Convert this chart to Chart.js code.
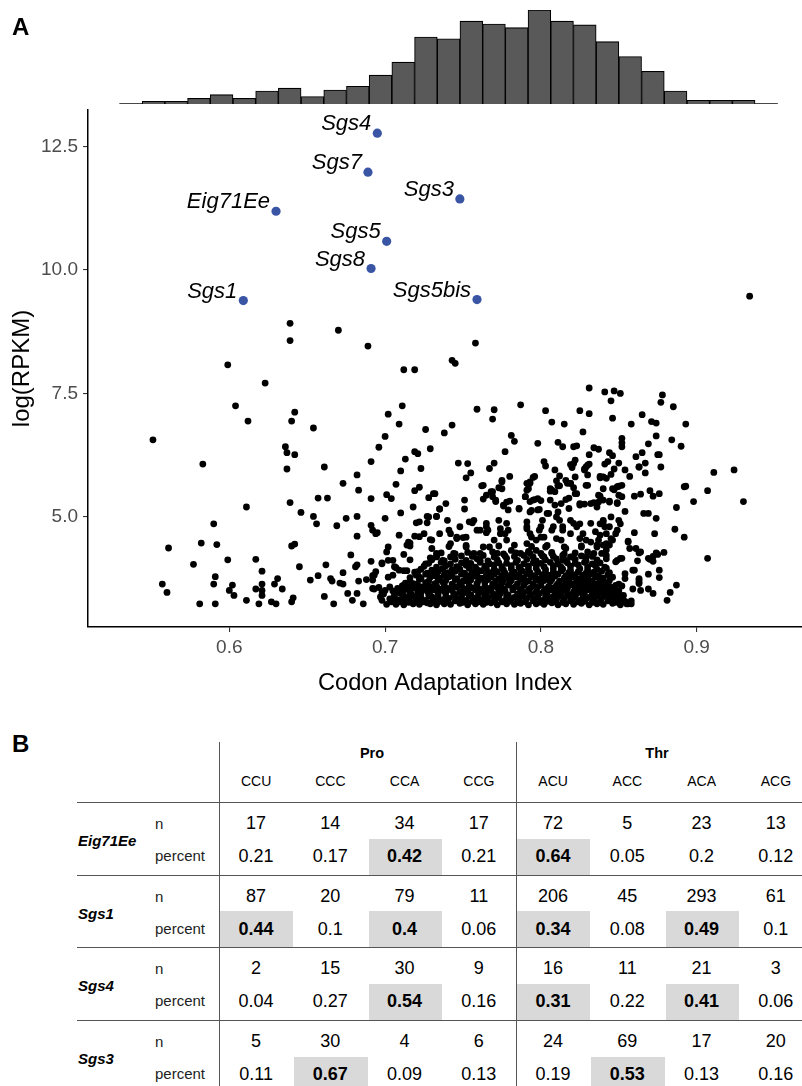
<!DOCTYPE html>
<html><head><meta charset="utf-8">
<script src="https://cdn.jsdelivr.net/npm/chart.js@4.4.1/dist/chart.umd.min.js"></script>
<style>
html,body{margin:0;padding:0;background:#fff;}
#wrap{position:relative;width:802px;height:1086px;overflow:hidden;background:#fff;font-family:"Liberation Sans",Arial,sans-serif;color:#000;}
canvas{position:absolute;left:0;}
#hist{top:0;}
#scat{top:100px;}
.panel{position:absolute;font-weight:bold;font-size:24px;line-height:24px;}
.t{position:absolute;line-height:1;white-space:nowrap;transform:translate(-50%,-50%);}
.tl{position:absolute;line-height:1;white-space:nowrap;transform:translate(0,-50%);}
.ln{position:absolute;background:#555;}
.hl{position:absolute;background:#d9d9d9;}
</style></head><body>
<div id="wrap">
<canvas id="hist" width="802" height="110"></canvas>
<canvas id="scat" width="802" height="610"></canvas>
<div class="panel" style="left:12px;top:15px">A</div>
<div class="panel" style="left:12px;top:732px">B</div>
<div id="tbl"></div>
</div>
<script>
// ---------- DATA ----------
const xTicks = [0.6, 0.7, 0.8, 0.9];
const yTicks = [5.0, 7.5, 10.0, 12.5];

// histogram of Codon Adaptation Index (marginal)
const histStart = 0.5295;
const histBinWidth = 0.01457;
const histCounts = [0,3,3,6,10,6,14,17,8,15,19,31,45,72,70,89,86,82,101,89,85,67,51,35,14,4,4,4,0];

// labeled genes (blue)
const labeledGenes = ['Sgs4','Sgs7','Sgs3','Eig71Ee','Sgs5','Sgs8','Sgs1','Sgs5bis'];
const labeledCAI = [0.695,0.689,0.748,0.630,0.701,0.691,0.609,0.759];
const labeledLogRPKM = [12.77,11.98,11.44,11.19,10.58,10.03,9.38,9.40];

// all other genes: [CAI, log(RPKM)]
const genePoints = [
[0.639,8.92],[0.639,8.57],[0.670,8.78],[0.689,8.46],[0.599,8.08],[0.623,7.71],[0.712,7.98],[0.719,7.98],[0.604,7.25],[0.612,6.94],[0.642,7.12],[0.640,6.94],[0.654,6.80],[0.551,6.56],[0.583,6.07],[0.636,6.42],[0.637,6.30],[0.642,6.26],[0.637,5.97],[0.661,6.01],[0.673,5.68],[0.682,5.85],[0.683,5.54],[0.691,6.12],[0.691,5.37],[0.657,5.38],[0.663,5.38],[0.639,5.29],[0.646,5.09],[0.654,5.01],[0.656,4.86],[0.669,4.82],[0.675,4.97],[0.682,5.01],[0.611,5.20],[0.590,4.86],[0.582,4.47],[0.592,4.44],[0.561,4.37],[0.599,4.13],[0.577,4.04],[0.591,3.79],[0.590,3.64],[0.557,3.64],[0.560,3.47],[0.581,3.24],[0.591,3.24],[0.600,3.51],[0.602,3.62],[0.603,3.41],[0.611,3.31],[0.617,3.54],[0.617,4.14],[0.621,3.90],[0.621,3.64],[0.621,3.51],[0.621,3.41],[0.619,3.24],[0.627,3.28],[0.630,3.24],[0.629,3.64],[0.631,3.75],[0.634,3.54],[0.640,4.41],[0.642,4.45],[0.645,3.99],[0.640,3.28],[0.641,3.36],[0.652,3.72],[0.657,3.81],[0.662,4.03],[0.661,3.39],[0.667,3.24],[0.665,3.75],[0.666,3.70],[0.671,3.66],[0.673,3.64],[0.673,3.87],[0.676,3.45],[0.679,3.31],[0.682,3.45],[0.683,3.70],[0.686,3.24],[0.681,3.99],[0.682,4.03],[0.678,4.23],[0.682,4.61],[0.688,3.73],[0.691,4.10],[0.691,4.83],[0.692,4.73],[0.694,4.66],[0.692,3.81],[0.694,3.89],[0.693,3.54],[0.696,3.57],[0.698,3.47],[0.698,4.05],[0.698,3.31],[0.700,4.97],[0.700,6.63],[0.696,6.41],[0.702,7.08],[0.709,6.88],[0.711,7.25],[0.713,6.17],[0.710,5.93],[0.707,5.66],[0.701,5.45],[0.704,5.37],[0.710,5.08],[0.719,5.53],[0.722,5.60],[0.718,5.20],[0.719,6.32],[0.721,6.28],[0.723,5.98],[0.726,6.77],[0.729,6.38],[0.728,5.39],[0.731,5.47],[0.727,5.01],[0.733,5.01],[0.727,4.88],[0.720,4.88],[0.722,4.90],[0.725,4.66],[0.722,4.60],[0.719,4.61],[0.709,4.63],[0.714,4.43],[0.716,4.47],[0.712,4.24],[0.702,4.39],[0.729,4.54],[0.730,4.36],[0.735,5.16],[0.729,4.17],[0.733,4.19],[0.716,4.13],[0.702,4.12],[0.705,4.12],[0.706,3.99],[0.709,3.92],[0.702,3.78],[0.705,3.82],[0.712,3.91],[0.721,3.89],[0.726,4.05],[0.722,3.78],[0.731,3.85],[0.712,3.62],[0.715,3.58],[0.718,3.65],[0.725,3.58],[0.729,3.51],[0.734,3.55],[0.709,3.48],[0.716,3.45],[0.722,3.41],[0.730,3.38],[0.706,3.31],[0.709,3.28],[0.716,3.28],[0.722,3.28],[0.729,3.24],[0.734,3.28],[0.707,3.23],
[0.758,8.52],[0.743,8.17],[0.745,8.11],[0.759,7.18],[0.770,7.17],[0.769,6.98],[0.787,7.27],[0.743,6.86],[0.738,6.70],[0.803,7.15],[0.807,6.92],[0.815,6.88],[0.825,7.15],[0.831,7.09],[0.831,7.61],[0.841,7.53],[0.847,7.55],[0.851,7.50],[0.845,7.35],[0.846,7.00],[0.858,6.88],[0.865,7.07],[0.871,6.93],[0.874,6.90],[0.878,7.47],[0.877,7.32],[0.885,7.23],[0.893,6.88],[0.827,6.72],[0.852,6.59],[0.852,6.50],[0.852,6.42],[0.874,6.64],[0.869,6.48],[0.884,6.56],[0.890,6.43],[0.781,6.65],[0.783,6.53],[0.777,6.32],[0.798,6.49],[0.811,6.51],[0.814,6.42],[0.821,6.42],[0.823,6.44],[0.834,6.40],[0.837,6.37],[0.831,6.26],[0.844,6.30],[0.846,6.24],[0.865,6.30],[0.861,6.22],[0.875,6.26],[0.876,6.26],[0.877,6.01],[0.867,6.09],[0.867,5.89],[0.863,6.01],[0.747,6.09],[0.753,6.08],[0.755,5.89],[0.752,5.79],[0.767,5.98],[0.770,6.09],[0.762,5.63],[0.775,5.74],[0.773,5.59],[0.780,5.82],[0.768,5.51],[0.769,5.41],[0.771,5.31],[0.763,5.36],[0.751,5.34],[0.739,5.27],[0.732,5.47],[0.751,5.16],[0.735,5.16],[0.733,5.01],[0.802,6.12],[0.803,6.03],[0.809,5.95],[0.812,5.83],[0.810,5.73],[0.796,5.82],[0.792,5.66],[0.791,5.54],[0.790,5.41],[0.793,5.31],[0.796,5.35],[0.800,5.33],[0.806,5.52],[0.809,5.51],[0.811,5.63],[0.816,5.74],[0.819,5.68],[0.821,5.59],[0.823,5.47],[0.816,5.35],[0.818,5.38],[0.822,5.81],[0.821,6.08],[0.819,6.06],[0.828,5.97],[0.830,5.85],[0.830,6.05],[0.838,5.79],[0.840,5.81],[0.845,5.86],[0.847,5.97],[0.850,6.09],[0.854,5.95],[0.857,5.82],[0.850,5.62],[0.852,5.64],[0.847,5.55],[0.852,5.41],[0.849,5.29],[0.844,5.32],[0.838,5.42],[0.837,5.30],[0.834,5.29],[0.828,5.26],[0.825,5.27],[0.799,5.15],[0.805,5.07],[0.794,5.13],[0.786,5.16],[0.776,5.22],[0.780,5.32],[0.860,5.42],[0.864,5.46],[0.870,5.53],[0.872,5.42],[0.876,5.47],[0.866,5.07],[0.869,5.07],[0.854,5.11],[0.874,4.97],[0.887,5.19],[0.892,5.61],[0.893,5.62],[0.898,5.31],[0.907,5.53],[0.911,5.90],[0.924,5.95],[0.930,5.31],[0.934,9.47],[0.907,4.16],[0.886,4.75],[0.892,4.59],[0.887,3.62],[0.883,3.47],[0.881,3.31],[0.873,4.66],[0.860,4.68],[0.856,4.51],[0.857,4.36],[0.861,4.36],[0.863,4.27],[0.852,4.16],[0.849,4.12],[0.869,4.16],[0.872,4.20],[0.875,4.24],[0.879,4.28],[0.876,3.92],[0.876,3.77],[0.869,3.84],[0.863,3.72],[0.863,3.65],[0.859,3.92],[0.854,3.85],[0.859,3.54],[0.864,3.51],[0.869,3.54],[0.872,3.45],[0.852,3.60],[0.856,3.24],[0.854,3.28],[0.849,3.31],[0.844,3.38],
[0.844,4.43],[0.842,4.66],[0.838,4.63],[0.836,4.39],[0.840,4.93],[0.845,5.00],[0.838,4.86],[0.849,4.73],[0.845,4.56],[0.829,4.53],[0.832,4.49],[0.834,4.26],[0.829,4.19],[0.826,4.39],[0.827,4.66],[0.825,4.86],[0.823,4.80],[0.819,4.93],[0.814,4.73],[0.813,4.53],[0.810,4.56],[0.816,4.36],[0.819,4.19],[0.814,4.12],[0.810,5.00],[0.808,4.80],[0.801,4.93],[0.799,4.73],[0.800,4.59],[0.797,4.53],[0.793,4.66],[0.791,4.80],[0.791,4.46],[0.793,4.26],[0.797,4.32],[0.803,4.39],[0.802,4.19],[0.807,4.26],[0.787,4.26],[0.781,4.32],[0.778,4.53],[0.779,4.73],[0.774,4.66],[0.770,4.53],[0.767,4.39],[0.772,4.26],[0.765,4.80],[0.761,4.73],[0.757,4.93],[0.754,4.90],[0.748,4.80],[0.746,4.56],[0.750,4.58],[0.742,4.46],[0.740,4.93],[0.735,4.66],[0.730,4.53],[0.733,4.26],[0.737,4.12],[0.744,4.26],[0.752,4.39],[0.757,4.26],[0.761,4.12],
[0.728,5.00],[0.741,4.73],[0.756,4.88],[0.759,4.73],[0.765,4.68],[0.695,4.68],[0.742,4.66],[0.746,4.59],[0.752,4.59],[0.715,4.49],[0.716,4.41],[0.701,4.29],[0.698,4.07],[0.707,3.97],[0.714,3.91],[0.693,3.82],[0.692,3.72],[0.700,3.51],[0.697,3.38],[0.703,3.58],[0.692,3.55],[0.705,3.35],[0.710,3.45],[0.712,3.31],
[0.763,5.64],[0.765,5.44],[0.769,5.51],[0.771,5.34],[0.775,5.71],[0.776,5.24],[0.778,5.30],[0.779,5.14],[0.793,5.68],[0.792,5.57],[0.790,5.41],[0.795,5.34],[0.798,5.37],[0.807,5.54],[0.811,5.64],[0.819,5.68],[0.822,5.47],[0.829,5.64],[0.837,5.44],[0.840,5.57],[0.806,5.34],[0.809,5.24],[0.813,5.27],[0.818,5.17],[0.825,5.24],[0.832,5.27],[0.836,5.20],[0.840,5.34],[0.786,5.17],[0.793,5.10],[0.798,5.14],[0.804,5.07],[0.811,5.10],[0.765,4.87],[0.766,4.73],[0.773,4.93],[0.774,4.76],[0.778,4.87],[0.777,4.66],[0.791,4.90],[0.791,4.76],[0.794,4.59],[0.800,4.80],[0.802,4.59],[0.807,4.73],[0.812,4.93],[0.814,4.80],[0.819,4.66],[0.821,4.87],[0.825,4.56],[0.832,4.87],[0.835,4.70],[0.837,4.53],[0.841,4.80],[0.842,4.46],
[0.846,5.57],[0.850,5.44],[0.844,5.30],[0.849,5.27],[0.840,4.90],[0.844,4.80],[0.850,4.93],[0.851,4.86],[0.848,4.66],[0.846,4.53],[0.840,4.43],[0.856,4.49],[0.864,4.29],[0.874,4.27],[0.870,4.14],[0.872,4.10],[0.862,4.11],[0.848,4.09],[0.851,4.16],[0.842,4.33],[0.842,4.22],[0.860,3.92],[0.854,3.75],[0.863,3.75],[0.863,3.68],[0.853,3.41],[0.855,3.24],[0.851,3.28],
[0.822,6.15],[0.820,6.00],[0.829,6.01],[0.831,6.07],[0.828,5.95],[0.838,5.82],[0.842,5.78],[0.841,6.07],[0.843,6.12],[0.795,5.80],[0.791,5.68],[0.793,5.71],[0.775,5.57],[0.806,5.57],[0.812,5.63],[0.817,5.68],[0.830,5.64],[0.849,5.61],[0.863,6.01],
[0.701,3.23],[0.707,3.25],[0.712,3.22],[0.718,3.24],[0.722,3.23],[0.727,3.26],[0.733,3.22],[0.738,3.24],[0.742,3.23],[0.748,3.25],[0.753,3.22],[0.758,3.24],[0.763,3.23],[0.768,3.26],[0.772,3.22],[0.778,3.24],[0.783,3.23],[0.787,3.25],[0.792,3.22],[0.797,3.24],[0.802,3.23],[0.807,3.26],[0.811,3.22],[0.816,3.24],[0.821,3.23],[0.826,3.25],[0.831,3.22],[0.836,3.24],[0.840,3.23],[0.846,3.25],[0.851,3.22],[0.858,3.24],
[0.704,3.28],[0.710,3.29],[0.715,3.27],[0.721,3.30],[0.725,3.28],[0.730,3.27],[0.736,3.29],[0.740,3.28],[0.745,3.30],[0.750,3.27],[0.756,3.29],[0.760,3.28],[0.765,3.27],[0.770,3.30],[0.775,3.28],[0.780,3.29],[0.785,3.27],[0.790,3.28],[0.795,3.30],[0.800,3.27],[0.804,3.29],[0.809,3.28],[0.814,3.27],[0.819,3.30],[0.824,3.28],[0.828,3.29],[0.833,3.27],[0.838,3.28],[0.843,3.30],[0.848,3.27],[0.854,3.29],
[0.703,3.34],[0.709,3.32],[0.715,3.35],[0.720,3.33],[0.726,3.31],[0.731,3.34],[0.737,3.32],[0.741,3.35],[0.747,3.33],[0.752,3.31],[0.757,3.34],[0.762,3.32],[0.766,3.36],[0.771,3.33],[0.777,3.31],[0.781,3.34],[0.786,3.32],[0.791,3.35],[0.796,3.33],[0.801,3.31],[0.805,3.34],[0.810,3.32],[0.815,3.35],[0.820,3.33],[0.825,3.31],[0.829,3.34],[0.834,3.32],[0.839,3.35],[0.844,3.33],[0.849,3.36],[0.858,3.30],
[0.706,3.38],[0.712,3.40],[0.718,3.39],[0.723,3.37],[0.729,3.40],[0.734,3.38],[0.739,3.39],[0.744,3.41],[0.749,3.38],[0.754,3.40],[0.759,3.37],[0.764,3.39],[0.769,3.41],[0.773,3.38],[0.778,3.40],[0.783,3.37],[0.788,3.39],[0.793,3.41],[0.798,3.38],[0.803,3.40],[0.807,3.37],[0.812,3.39],[0.817,3.41],[0.822,3.38],[0.827,3.40],[0.831,3.37],[0.836,3.39],[0.841,3.41],[0.846,3.38],[0.852,3.40],
[0.699,3.44],[0.706,3.42],[0.711,3.45],[0.717,3.43],[0.723,3.46],[0.728,3.42],[0.734,3.44],[0.739,3.47],[0.745,3.43],[0.750,3.45],[0.755,3.42],[0.760,3.44],[0.765,3.46],[0.770,3.43],[0.774,3.45],[0.779,3.42],[0.785,3.44],[0.789,3.47],[0.794,3.43],[0.799,3.45],[0.804,3.42],[0.809,3.44],[0.813,3.46],[0.818,3.43],[0.823,3.45],[0.828,3.42],[0.833,3.44],[0.838,3.47],[0.843,3.43],[0.848,3.45],
[0.705,3.50],[0.711,3.49],[0.716,3.51],[0.721,3.48],[0.727,3.50],[0.732,3.52],[0.738,3.49],[0.743,3.51],[0.748,3.48],[0.753,3.50],[0.758,3.52],[0.763,3.49],[0.768,3.51],[0.773,3.48],[0.777,3.50],[0.782,3.52],[0.787,3.49],[0.792,3.51],[0.797,3.48],[0.802,3.50],[0.806,3.52],[0.811,3.49],[0.816,3.51],[0.821,3.48],[0.825,3.50],[0.830,3.52],[0.835,3.49],[0.840,3.51],[0.845,3.48],[0.850,3.50],
[0.708,3.55],[0.714,3.53],[0.719,3.56],[0.724,3.54],[0.730,3.57],[0.736,3.53],[0.740,3.55],[0.746,3.58],[0.751,3.54],[0.756,3.56],[0.761,3.53],[0.767,3.55],[0.772,3.57],[0.776,3.54],[0.782,3.56],[0.787,3.53],[0.793,3.55],[0.798,3.58],[0.803,3.54],[0.808,3.56],[0.812,3.53],[0.817,3.55],[0.822,3.57],[0.827,3.54],[0.832,3.56],[0.837,3.53],[0.842,3.55],[0.847,3.57],
[0.711,3.60],[0.717,3.62],[0.722,3.59],[0.728,3.61],[0.733,3.60],[0.738,3.62],[0.744,3.59],[0.749,3.61],[0.754,3.60],[0.759,3.62],[0.764,3.59],[0.770,3.61],[0.774,3.60],[0.779,3.62],[0.784,3.59],[0.789,3.61],[0.795,3.60],[0.800,3.62],[0.805,3.59],[0.810,3.61],[0.814,3.60],[0.819,3.62],[0.824,3.59],[0.829,3.61],[0.834,3.60],[0.839,3.62],[0.844,3.59],[0.848,3.61],
[0.713,3.66],[0.720,3.64],[0.726,3.67],[0.732,3.65],[0.737,3.68],[0.743,3.64],[0.748,3.66],[0.753,3.69],[0.759,3.65],[0.764,3.67],[0.769,3.64],[0.775,3.66],[0.780,3.68],[0.785,3.65],[0.790,3.67],[0.795,3.64],[0.800,3.66],[0.806,3.69],[0.811,3.65],[0.816,3.67],[0.821,3.64],[0.826,3.66],[0.831,3.68],[0.836,3.65],[0.841,3.67],[0.850,3.64],
[0.716,3.71],[0.722,3.73],[0.728,3.70],[0.734,3.72],[0.739,3.71],[0.745,3.73],[0.750,3.70],[0.755,3.72],[0.760,3.71],[0.766,3.73],[0.771,3.70],[0.776,3.72],[0.781,3.71],[0.787,3.73],[0.792,3.70],[0.797,3.72],[0.802,3.71],[0.807,3.73],[0.812,3.70],[0.818,3.72],[0.823,3.71],[0.828,3.73],[0.833,3.70],[0.838,3.72],[0.844,3.71],
[0.716,3.77],[0.723,3.75],[0.729,3.78],[0.735,3.76],[0.741,3.79],[0.746,3.75],[0.752,3.77],[0.757,3.80],[0.762,3.76],[0.768,3.78],[0.773,3.75],[0.778,3.77],[0.784,3.79],[0.789,3.76],[0.794,3.78],[0.799,3.75],[0.804,3.77],[0.809,3.80],[0.815,3.76],[0.820,3.78],[0.825,3.75],[0.830,3.77],[0.835,3.79],[0.840,3.76],[0.846,3.78],
[0.720,3.82],[0.726,3.84],[0.732,3.81],[0.738,3.83],[0.743,3.82],[0.749,3.84],[0.754,3.81],[0.759,3.83],[0.765,3.82],[0.770,3.84],[0.775,3.81],[0.781,3.83],[0.786,3.82],[0.791,3.84],[0.796,3.81],[0.801,3.83],[0.806,3.82],[0.811,3.84],[0.816,3.81],[0.822,3.83],[0.827,3.82],[0.832,3.84],[0.837,3.81],[0.843,3.83],
[0.719,3.88],[0.727,3.86],[0.734,3.89],[0.740,3.87],[0.745,3.90],[0.751,3.86],[0.756,3.88],[0.762,3.91],[0.767,3.87],[0.772,3.89],[0.777,3.86],[0.783,3.88],[0.788,3.90],[0.793,3.87],[0.798,3.89],[0.803,3.86],[0.808,3.88],[0.813,3.91],[0.818,3.87],[0.824,3.89],[0.829,3.86],[0.834,3.88],[0.839,3.90],[0.844,3.87],
[0.723,3.94],[0.730,3.92],[0.737,3.95],[0.743,3.93],[0.748,3.94],[0.754,3.96],[0.759,3.93],[0.765,3.95],[0.770,3.94],[0.776,3.92],[0.781,3.95],[0.787,3.93],[0.792,3.94],[0.797,3.96],[0.803,3.93],[0.808,3.95],[0.814,3.94],[0.819,3.92],[0.825,3.95],[0.830,3.93],[0.836,3.94],[0.842,3.96],
[0.725,4.00],[0.733,3.98],[0.739,4.01],[0.746,3.99],[0.752,4.02],[0.758,3.98],[0.764,4.00],[0.770,4.03],[0.775,3.99],[0.781,4.01],[0.786,3.98],[0.792,4.00],[0.797,4.02],[0.802,3.99],[0.808,4.01],[0.813,3.98],[0.819,4.00],[0.824,4.03],[0.830,3.99],[0.835,4.01],[0.841,3.98],
[0.728,4.06],[0.736,4.08],[0.742,4.05],[0.749,4.07],[0.755,4.06],[0.761,4.08],[0.767,4.05],[0.773,4.07],[0.778,4.06],[0.784,4.08],[0.789,4.05],[0.795,4.07],[0.800,4.06],[0.806,4.08],[0.811,4.05],[0.817,4.07],[0.822,4.06],[0.828,4.08],[0.833,4.05],[0.838,4.07],
[0.730,4.13],[0.738,4.11],[0.745,4.14],[0.752,4.12],[0.759,4.15],[0.766,4.11],[0.772,4.13],[0.778,4.16],[0.785,4.12],[0.791,4.14],[0.797,4.11],[0.803,4.13],[0.810,4.15],[0.816,4.12],[0.822,4.14],[0.829,4.11],[0.836,4.13],[0.842,4.15],
[0.733,4.20],[0.742,4.19],[0.749,4.21],[0.756,4.20],[0.763,4.22],[0.770,4.19],[0.777,4.21],[0.783,4.20],[0.789,4.22],[0.795,4.19],[0.801,4.21],[0.808,4.20],[0.814,4.22],[0.820,4.19],[0.826,4.21],[0.833,4.20],
[0.736,4.27],[0.745,4.25],[0.753,4.28],[0.761,4.26],[0.769,4.29],[0.776,4.25],[0.784,4.27],[0.792,4.30],[0.800,4.26],[0.807,4.28],[0.815,4.25],[0.822,4.27],[0.830,4.29],[0.839,4.26],
[0.741,4.40],[0.752,4.42],[0.763,4.39],[0.773,4.41],[0.783,4.43],[0.794,4.40],[0.804,4.42],[0.815,4.39],[0.826,4.41],[0.836,4.43]
];

// table B
const aminoAcids = ['Pro','Thr'];
const codons = ['CCU','CCC','CCA','CCG','ACU','ACC','ACA','ACG'];
const tableGenes = ['Eig71Ee','Sgs1','Sgs4','Sgs3'];
const nEig71Ee = [17,14,34,17,72,5,23,13];
const pctEig71Ee = [0.21,0.17,0.42,0.21,0.64,0.05,0.2,0.12];
const nSgs1 = [87,20,79,11,206,45,293,61];
const pctSgs1 = [0.44,0.1,0.4,0.06,0.34,0.08,0.49,0.1];
const nSgs4 = [2,15,30,9,16,11,21,3];
const pctSgs4 = [0.04,0.27,0.54,0.16,0.31,0.22,0.41,0.06];
const nSgs3 = [5,30,4,6,24,69,17,20];
const pctSgs3 = [0.11,0.67,0.09,0.13,0.19,0.53,0.13,0.16];
const highlightThreshold = 0.3;

// ---------- CHARTS ----------
const FONT = '"Liberation Sans", Arial, sans-serif';
Chart.defaults.font.family = FONT;
const xMin = 0.5093, xMax = 0.9676, yMin = 2.77, yMax = 13.24;
const zeroPad = s => { s.paddingLeft = 0; s.paddingRight = 0; s.paddingTop = 0; s.paddingBottom = 0; };

new Chart(document.getElementById('hist'), {
  type: 'bar',
  data: { datasets: [
    { type:'bar', data: histCounts.map((c,i)=>({x: histStart + (i+0.5)*histBinWidth, y: c})),
      backgroundColor:'#595959', borderColor:'#000', borderWidth: ctx => (ctx.raw && ctx.raw.y>0) ? 1.1 : 0,
      borderSkipped:'start', barPercentage:1, categoryPercentage:1 },
    { type:'line', data: [{x: histStart, y:0},{x: histStart + histCounts.length*histBinWidth, y:0}],
      borderColor:'#000', borderWidth:1.3, pointRadius:0 }
  ]},
  options: {
    responsive:false, animation:false, devicePixelRatio:1,
    layout:{autoPadding:false, padding:{left:88,right:0,top:10,bottom:6}},
    plugins:{legend:{display:false},tooltip:{enabled:false}},
    scales:{ x:{type:'linear',min:xMin,max:xMax,offset:false,display:false}, y:{min:0,max:Math.max(...histCounts),display:false} }
  }
});

const labelPlugin = {
  id:'geneLabels',
  afterDatasetsDraw(chart){
    const meta = chart.getDatasetMeta(1), ctx = chart.ctx;
    ctx.save();
    ctx.font = 'italic 22px ' + FONT;
    ctx.fillStyle = '#000'; ctx.textAlign = 'right'; ctx.textBaseline = 'alphabetic';
    meta.data.forEach((pt,i)=>ctx.fillText(labeledGenes[i], pt.x-6, pt.y-3));
    ctx.restore();
  }
};

new Chart(document.getElementById('scat'), {
  type:'scatter',
  data:{ datasets:[
    { data: genePoints.map(p=>({x:p[0], y:p[1]})), pointRadius:3.4, pointBackgroundColor:'#000', pointBorderWidth:0, borderWidth:0 },
    { data: labeledGenes.map((g,i)=>({x:labeledCAI[i], y:labeledLogRPKM[i]})), pointRadius:4.6, pointBackgroundColor:'#3a55a4', pointBorderWidth:0, borderWidth:0 }
  ]},
  options:{
    responsive:false, animation:false, devicePixelRatio:1,
    layout:{autoPadding:false, padding:{left:0,right:0,top:10,bottom:0}},
    plugins:{legend:{display:false},tooltip:{enabled:false}},
    scales:{
      x:{ type:'linear', min:xMin, max:xMax,
        afterBuildTicks: s => { s.ticks = xTicks.map(v=>({value:v})); },
        afterFit: s => { s.height = 83; zeroPad(s); },
        ticks:{ color:'#4d4d4d', font:{size:19}, padding:4, maxRotation:0, callback: v => v.toFixed(1) },
        grid:{ display:true, drawOnChartArea:false, drawTicks:true, tickLength:5, color:'#333', lineWidth:1.1 },
        border:{ display:true, color:'#000', width:1.5 },
        title:{ display:true, text:'Codon Adaptation Index', color:'#000', font:{size:23.7}, padding:{top:4,bottom:12} }
      },
      y:{ type:'linear', min:yMin, max:yMax,
        afterBuildTicks: s => { s.ticks = yTicks.map(v=>({value:v})); },
        afterFit: s => { s.width = 88; zeroPad(s); },
        ticks:{ color:'#4d4d4d', font:{size:19}, padding:5, callback: v => v.toFixed(1) },
        grid:{ display:true, drawOnChartArea:false, drawTicks:true, tickLength:5, color:'#333', lineWidth:1.1 },
        border:{ display:true, color:'#000', width:1.5 },
        title:{ display:true, text:'log(RPKM)', color:'#000', font:{size:24}, padding:{top:8,bottom:4} }
      }
    }
  },
  plugins:[labelPlugin]
});

// ---------- TABLE ----------
(function(){
  const tbl = document.getElementById('tbl');
  const add = (cls, css, text) => { const d = document.createElement('div'); d.className = cls; d.style.cssText = css; if (text !== undefined) d.textContent = text; tbl.appendChild(d); };
  const nRows = [nEig71Ee, nSgs1, nSgs4, nSgs3];
  const pRows = [pctEig71Ee, pctSgs1, pctSgs4, pctSgs3];
  const colLeft = 219, colW = 74.25, headTop = 802, groupH = 72.7;
  tableGenes.forEach((g,gi)=>{
    const top = headTop + gi*groupH;
    pRows[gi].forEach((p,ci)=>{
      if (p >= highlightThreshold) add('hl', `left:${colLeft+ci*colW+1}px;top:${top+36.5}px;width:${colW-1}px;height:${groupH-36.5}px;`);
    });
  });
  add('ln', 'left:219px;top:742px;width:1px;height:344px;');
  add('ln', 'left:516px;top:742px;width:1px;height:344px;');
  for (let gi=0; gi<tableGenes.length; gi++) add('ln', `left:77px;top:${headTop+gi*groupH}px;width:740px;height:1px;`);
  const aaCenters = [372, 657];
  aminoAcids.forEach((a,i)=>add('t', `left:${aaCenters[i]}px;top:753px;font-weight:bold;font-size:14.5px;`, a));
  codons.forEach((c,i)=>add('t', `left:${colLeft+(i+0.5)*colW}px;top:781px;font-size:14px;`, c));
  tableGenes.forEach((g,gi)=>{
    const top = headTop + gi*groupH;
    add('tl', `left:78px;top:${top+38}px;font-weight:bold;font-style:italic;font-size:15px;`, g);
    add('tl', `left:155px;top:${top+21}px;font-size:15px;color:#222;`, 'n');
    add('tl', `left:155px;top:${top+53}px;font-size:15px;color:#222;`, 'percent');
    nRows[gi].forEach((v,ci)=>add('t', `left:${colLeft+(ci+0.5)*colW}px;top:${top+21}px;font-size:18px;`, String(v)));
    pRows[gi].forEach((v,ci)=>add('t', `left:${colLeft+(ci+0.5)*colW}px;top:${top+54}px;font-size:18px;${v>=highlightThreshold?'font-weight:bold;':''}`, String(v)));
  });
})();
</script>
</body></html>
